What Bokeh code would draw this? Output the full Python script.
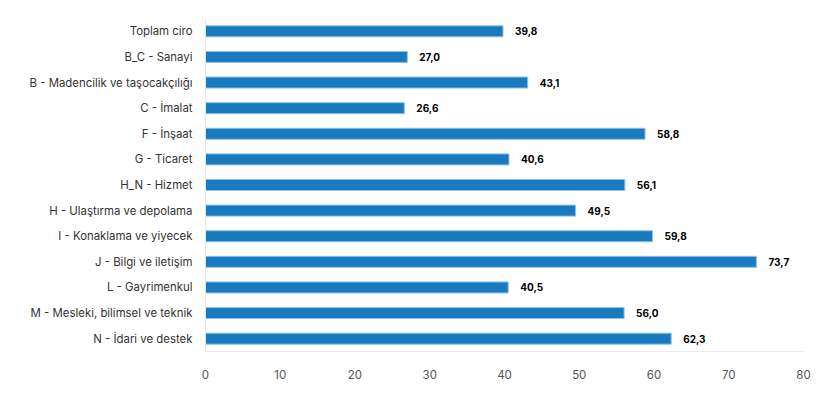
from bokeh.plotting import figure
from bokeh.models import ColumnDataSource, FixedTicker, Range1d
from bokeh.core.properties import value
from bokeh.embed import file_html
from bokeh.resources import INLINE

categories = ["Toplam ciro", "B_C - Sanayi", "B - Madencilik ve taşocakçılığı", "C - İmalat",
              "F - İnşaat", "G - Ticaret", "H_N - Hizmet", "H - Ulaştırma ve depolama",
              "I - Konaklama ve yiyecek", "J - Bilgi ve iletişim", "L - Gayrimenkul",
              "M - Mesleki, bilimsel ve teknik", "N - İdari ve destek"]
values = [39.8, 27.0, 43.1, 26.6, 58.8, 40.6, 56.1, 49.5, 59.8, 73.7, 40.5, 56.0, 62.3]
labels = [f"{v:.1f}".replace(".", ",") for v in values]
x_ticks = [0, 10, 20, 30, 40, 50, 60, 70, 80]

FONT = "Inter"

src = ColumnDataSource(dict(cat=categories, val=values, lab=labels))

p = figure(y_range=list(reversed(categories)), x_range=Range1d(0, 80),
           width=827, height=385, output_backend="svg", toolbar_location=None,
           min_border_left=205, min_border_right=24, min_border_top=18, min_border_bottom=34)
p.outline_line_color = None
p.background_fill_color = "white"
p.border_fill_color = "white"

p.hbar(y="cat", right="val", left=0, height=0.43, source=src,
       fill_color="#1a7abf", line_color="#8fc1e6", line_width=1)

p.text(x="val", y="cat", text="lab", source=src, x_offset=12,
       text_font=value(FONT), text_font_size="10px", text_font_style="bold",
       text_color="#000000", text_baseline="middle", text_align="left")

p.xgrid.visible = False
p.ygrid.visible = False

p.xaxis.ticker = FixedTicker(ticks=x_ticks)
p.xaxis.axis_line_color = "#ebebeb"
p.xaxis.axis_line_width = 1
p.xaxis.major_tick_line_color = None
p.xaxis.minor_tick_line_color = None
p.xaxis.major_label_text_font = FONT
p.xaxis.major_label_text_font_size = "11.5px"
p.xaxis.major_label_text_color = "#555555"
p.xaxis.major_label_standoff = 12

p.yaxis.axis_line_color = "#e6e6e6"
p.yaxis.major_tick_line_color = None
p.yaxis.minor_tick_line_color = None
p.yaxis.major_label_text_font = FONT
p.yaxis.major_label_text_font_size = "11.4px"
p.yaxis.major_label_text_color = "#333333"
p.yaxis.major_label_standoff = 7

open("out.html", "w").write(file_html(p, INLINE))
